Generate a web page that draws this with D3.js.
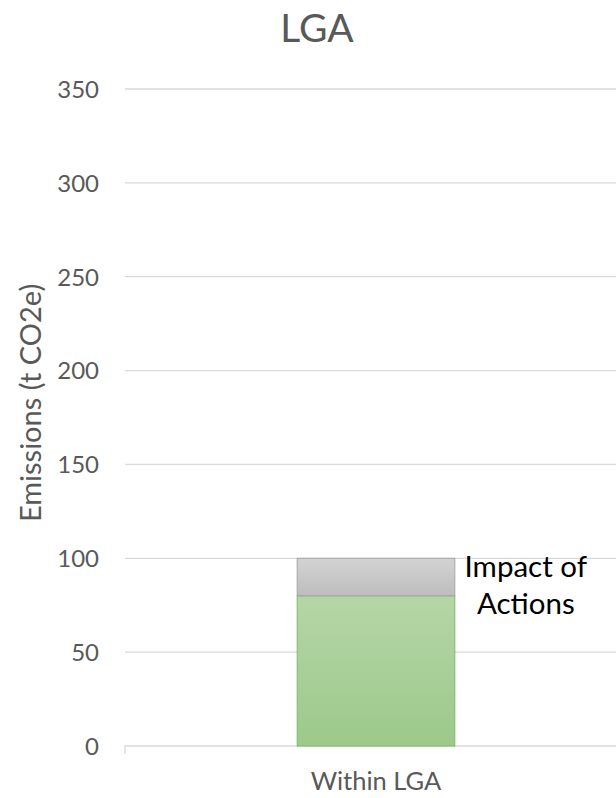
<!DOCTYPE html>
<html>
<head>
<meta charset="utf-8">
<script src="https://cdn.jsdelivr.net/npm/d3@7"></script>
<style>
  body { margin: 0; background: #fff; }
  text { font-family: Lato, "Open Sans", sans-serif; }
</style>
</head>
<body>
<div id="chart"></div>
<script>
// chart data
var categories = ['Within LGA'];
var remainingValues = [80];
var impactValues = [20];
var yTicks = [0, 50, 100, 150, 200, 250, 300, 350];
var chartTitle = 'LGA';
var yLabel = 'Emissions (t CO2e)';
var impactLabel = ['Impact of', 'Actions'];

var width = 616;
var height = 798;
var margin = { top: 89, right: -11, bottom: 52, left: 125 };
var plotWidth = width - margin.left - margin.right;
var plotHeight = height - margin.top - margin.bottom;

var svg = d3.select('#chart')
    .append('svg')
    .attr('width', width)
    .attr('height', height);

var defs = svg.append('defs');
var greenGrad = defs.append('linearGradient')
    .attr('id', 'greenGrad')
    .attr('x1', 0).attr('y1', 0).attr('x2', 0).attr('y2', 1);
greenGrad.append('stop').attr('offset', '0%').attr('stop-color', '#b5d5a7');
greenGrad.append('stop').attr('offset', '100%').attr('stop-color', '#9cc98a');

var greyGrad = defs.append('linearGradient')
    .attr('id', 'greyGrad')
    .attr('x1', 0).attr('y1', 0).attr('x2', 0).attr('y2', 1);
greyGrad.append('stop').attr('offset', '0%').attr('stop-color', '#d3d3d3');
greyGrad.append('stop').attr('offset', '100%').attr('stop-color', '#bdbdbd');

var xScale = d3.scaleBand()
    .domain(categories)
    .range([0, plotWidth])
    .paddingInner(0.686)
    .paddingOuter(0.343);

var yScale = d3.scaleLinear()
    .domain([0, 350])
    .range([plotHeight, 0]);

var g = svg.append('g')
    .attr('transform', 'translate(' + margin.left + ',' + margin.top + ')');

// gridlines
g.append('g')
    .attr('class', 'grid')
    .selectAll('line')
    .data(yTicks.filter(function (d) { return d > 0; }))
    .enter()
    .append('line')
    .attr('x1', 0)
    .attr('x2', plotWidth)
    .attr('y1', function (d) { return yScale(d); })
    .attr('y2', function (d) { return yScale(d); })
    .attr('stroke', '#d9d9d9')
    .attr('stroke-width', 1.3);

// y axis labels (no line)
var yAxis = d3.axisLeft(yScale)
    .tickValues(yTicks)
    .tickSize(0)
    .tickPadding(26);

var yAxisG = g.append('g').call(yAxis);
yAxisG.select('.domain').remove();
yAxisG.selectAll('text')
    .attr('fill', '#595959')
    .attr('dy', '0.35em')
    .style('font-size', '24px')
    .style('font-family', 'Lato, sans-serif');

// x axis
var xAxis = d3.axisBottom(xScale)
    .tickSize(0)
    .tickPadding(26);

var xAxisG = g.append('g')
    .attr('transform', 'translate(0,' + plotHeight + ')')
    .call(xAxis);
xAxisG.select('.domain')
    .attr('stroke', '#d9d9d9')
    .attr('stroke-width', 1.3)
    .attr('d', 'M0,8V0H' + plotWidth + 'V8');
xAxisG.selectAll('text')
    .attr('fill', '#595959')
    .style('font-size', '25.5px')
    .style('font-family', 'Lato, sans-serif');

// stacked bars
g.selectAll('.remaining')
    .data(categories)
    .enter()
    .append('rect')
    .attr('class', 'remaining')
    .attr('x', function (d) { return xScale(d); })
    .attr('width', xScale.bandwidth())
    .attr('y', function (d, i) { return yScale(remainingValues[i]); })
    .attr('height', function (d, i) { return yScale(0) - yScale(remainingValues[i]); })
    .attr('fill', 'url(#greenGrad)')
    .attr('stroke', '#7fb866')
    .attr('stroke-width', 1);

g.selectAll('.impact')
    .data(categories)
    .enter()
    .append('rect')
    .attr('class', 'impact')
    .attr('x', function (d) { return xScale(d); })
    .attr('width', xScale.bandwidth())
    .attr('y', function (d, i) { return yScale(remainingValues[i] + impactValues[i]); })
    .attr('height', function (d, i) { return yScale(remainingValues[i]) - yScale(remainingValues[i] + impactValues[i]); })
    .attr('fill', 'url(#greyGrad)')
    .attr('stroke', '#a5a5a5')
    .attr('stroke-width', 1);

// impact label to the right of the bar
categories.forEach(function (c, i) {
    var labelX = xScale(c) + xScale.bandwidth() + 71;
    var midY = yScale(remainingValues[i] + impactValues[i] / 2);
    var label = g.append('text')
        .attr('x', labelX)
        .attr('y', midY)
        .attr('text-anchor', 'middle')
        .attr('fill', '#000')
        .style('font-size', '29.5px');
    label.append('tspan')
        .attr('x', labelX)
        .attr('dy', 0)
        .text(impactLabel[0]);
    label.append('tspan')
        .attr('x', labelX)
        .attr('dy', '1.25em')
        .text(impactLabel[1]);
});

// title
svg.append('text')
    .attr('x', 317)
    .attr('y', 42)
    .attr('text-anchor', 'middle')
    .attr('fill', '#595959')
    .style('font-size', '39px')
    .text(chartTitle);

// y axis title
svg.append('text')
    .attr('transform', 'translate(41,403) rotate(-90)')
    .attr('text-anchor', 'middle')
    .attr('fill', '#595959')
    .style('font-size', '29px')
    .text(yLabel);
</script>
</body>
</html>
